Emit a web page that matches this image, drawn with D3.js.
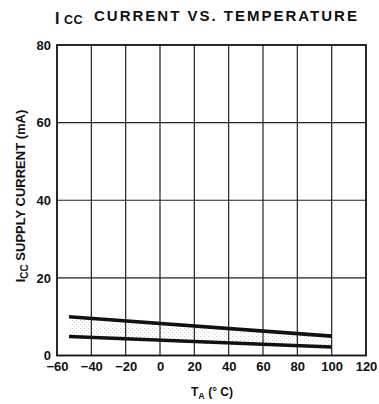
<!DOCTYPE html>
<html>
<head>
<meta charset="utf-8">
<script src="https://cdn.jsdelivr.net/npm/d3@7"></script>
<style>
  html, body { margin: 0; padding: 0; background: #fff; }
  svg { display: block; }
  text { font-family: "Liberation Sans", Arial, sans-serif; fill: #111; }
</style>
</head>
<body>
<svg id="chart" width="379" height="404"></svg>
<script>
// ---- data ----
const temps = [-53, 100];          // T_A (°C)
const upperCurrent = [10.0, 5.0];  // mA
const lowerCurrent = [4.9, 2.2];   // mA
const xTicks = [-60, -40, -20, 0, 20, 40, 60, 80, 100, 120];
const yTicks = [0, 20, 40, 60, 80];

// ---- layout ----
const svg = d3.select("#chart");
const plotL = 57, plotR = 366, plotT = 45, plotB = 355.5;

const x = d3.scaleLinear().domain([-60, 120]).range([plotL, plotR]);
const y = d3.scaleLinear().domain([0, 80]).range([plotB, plotT]);

// stipple pattern
const defs = svg.append("defs");
const pat = defs.append("pattern").attr("id", "stip").attr("patternUnits", "userSpaceOnUse")
  .attr("width", 4).attr("height", 4);
pat.append("rect").attr("x", 0).attr("y", 0).attr("width", 1).attr("height", 1).attr("fill", "#999");
pat.append("rect").attr("x", 2).attr("y", 2).attr("width", 1).attr("height", 1).attr("fill", "#bbb");

// band between curves
const band = temps.map((t, i) => ({ t, lo: lowerCurrent[i], hi: upperCurrent[i] }));
svg.append("path")
  .datum(band)
  .attr("fill", "url(#stip)")
  .attr("opacity", 0.5)
  .attr("d", d3.area().x(d => x(d.t)).y0(d => y(d.lo)).y1(d => y(d.hi)));

// grid
const grid = svg.append("g").attr("stroke", "#222").attr("stroke-width", 1.2);
grid.selectAll("line.v").data(xTicks.slice(1, -1)).enter().append("line")
  .attr("x1", d => x(d)).attr("x2", d => x(d)).attr("y1", plotT).attr("y2", plotB);
grid.selectAll("line.h").data(yTicks.slice(1, -1)).enter().append("line")
  .attr("y1", d => y(d)).attr("y2", d => y(d)).attr("x1", plotL).attr("x2", plotR);

// frame
svg.append("rect").attr("x", plotL).attr("y", plotT).attr("width", plotR - plotL).attr("height", plotB - plotT)
  .attr("fill", "none").attr("stroke", "#111").attr("stroke-width", 1.8);

// curves
const line = d3.line().x(d => x(d[0])).y(d => y(d[1]));
[upperCurrent, lowerCurrent].forEach(s => {
  svg.append("path")
    .datum(temps.map((t, i) => [t, s[i]]))
    .attr("fill", "none").attr("stroke", "#111").attr("stroke-width", 3.6)
    .attr("d", line);
});

// axes
const xAxis = svg.append("g").attr("transform", `translate(0,${plotB})`)
  .call(d3.axisBottom(x).tickValues(xTicks).tickSize(0).tickPadding(6).tickFormat(d => d < 0 ? "\u2212" + Math.abs(d) : d));
xAxis.select(".domain").remove();
xAxis.selectAll("text").attr("font-size", 13).attr("font-family", "Liberation Sans, Arial, sans-serif").attr("font-weight", "bold").attr("fill", "#111");

const yAxis = svg.append("g").attr("transform", `translate(${plotL},0)`)
  .call(d3.axisLeft(y).tickValues(yTicks).tickSize(0).tickPadding(6));
yAxis.select(".domain").remove();
yAxis.selectAll("text").attr("font-size", 13).attr("font-family", "Liberation Sans, Arial, sans-serif").attr("font-weight", "bold").attr("fill", "#111");

// title
const title = svg.append("text").attr("y", 21).attr("font-weight", "bold");
title.append("tspan").attr("x", 55).attr("dy", 2.5).attr("font-size", 16).text("I");
title.append("tspan").attr("x", 64).attr("font-size", 12.5).attr("letter-spacing", 0.5).text("CC");
title.append("tspan").attr("x", 94).attr("dy", -2.5).attr("font-size", 15).attr("letter-spacing", 2).text("CURRENT VS. TEMPERATURE");

// x axis title
const xt = svg.append("text").attr("x", 212).attr("y", 396).attr("text-anchor", "middle").attr("font-size", 12).attr("font-weight", "bold");
xt.append("tspan").text("T");
xt.append("tspan").attr("dy", 3).attr("font-size", 9).text("A");
xt.append("tspan").attr("dy", -3).text(" (\u00B0 C)");

// y axis title
const yt = svg.append("text").attr("transform", "translate(25,196) rotate(-90)").attr("text-anchor", "middle")
  .attr("font-size", 13).attr("font-weight", "bold");
yt.append("tspan").text("I");
yt.append("tspan").attr("dy", 3).attr("font-size", 10).text("CC");
yt.append("tspan").attr("dy", -3).text(" SUPPLY CURRENT (mA)");
</script>
</body>
</html>
